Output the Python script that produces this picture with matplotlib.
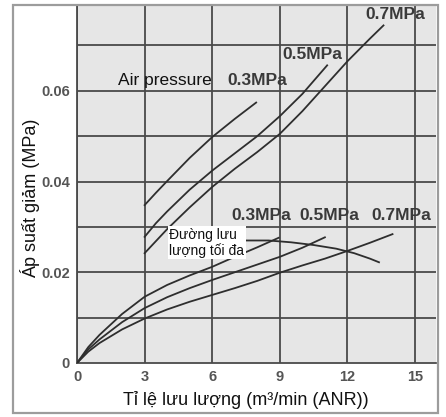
import matplotlib
matplotlib.use("Agg")
import matplotlib.pyplot as plt
from matplotlib import font_manager
from matplotlib.patches import Rectangle

names = {f.name for f in font_manager.fontManager.ttflist}
narrow = "Liberation Sans Narrow" if "Liberation Sans Narrow" in names else "Liberation Sans"

# upper curves (start at 3 m3/min)
up03_x = [3, 3.5, 4, 5, 6, 7, 7.95]
up03_y = [0.0348, 0.0375, 0.0401, 0.0452, 0.0498, 0.0538, 0.0574]
up05_x = [3, 3.5, 4, 5, 6, 7, 8, 9, 10, 11.1]
up05_y = [0.0278, 0.0308, 0.0334, 0.0382, 0.0424, 0.0462, 0.0500, 0.0544, 0.0593, 0.0656]
up07_x = [3, 4, 5, 6, 7, 8, 9, 10, 11, 12, 13, 13.6]
up07_y = [0.0242, 0.0295, 0.0343, 0.0388, 0.0428, 0.0465, 0.0505, 0.0555, 0.0610, 0.0665, 0.0715, 0.0744]

# lower curves (from origin)
lo03_x = [0, 0.5, 1, 2, 3, 4, 5, 6, 7, 8, 8.95]
lo03_y = [0, 0.0035, 0.0062, 0.0108, 0.0146, 0.0172, 0.0193, 0.0212, 0.0234, 0.0255, 0.0276]
lo05_x = [0, 0.5, 1, 2, 3, 4, 5, 6, 7, 8, 9, 10, 11]
lo05_y = [0, 0.0030, 0.0052, 0.0090, 0.0121, 0.0145, 0.0165, 0.0183, 0.0200, 0.0217, 0.0234, 0.0254, 0.0277]
lo07_x = [0, 0.5, 1, 2, 3, 4, 5, 6, 7, 8, 9, 10, 11, 12, 13, 14]
lo07_y = [0, 0.0025, 0.0044, 0.0074, 0.0098, 0.0118, 0.0135, 0.0150, 0.0165, 0.0181,
          0.0199, 0.0215, 0.0230, 0.0247, 0.0265, 0.0284]

# max flow line
mf_x = [7.5, 8.5, 9.5, 10.5, 11.5, 12.3, 13.0, 13.4]
mf_y = [0.0270, 0.0270, 0.0266, 0.0260, 0.0252, 0.0242, 0.0230, 0.0222]

xticks = [0, 3, 6, 9, 12, 15]
yticks = [0, 0.02, 0.04, 0.06]
ytick_labels = ["0", "0.02", "0.04", "0.06"]

W, H = 446, 417
fig = plt.figure(figsize=(W / 100, H / 100), dpi=100, facecolor="white")
ax = fig.add_axes([77 / W, (H - 363) / H, (436 - 77) / W, (363 - 5) / H])
ax.set_facecolor("#e6e6e6")
ax.set_xlim(0, 15.93)
ax.set_ylim(0, 0.0789)

# grid
for gx in xticks:
    ax.axvline(gx, color="#4a4a4a", lw=1.3, zorder=1)
for gy in [0.01, 0.02, 0.03, 0.04, 0.05, 0.06, 0.07]:
    ax.axhline(gy, color="#4a4a4a", lw=1.3, zorder=1)

lc = "#2e2e2e"
for xs, ys in [(up03_x, up03_y), (up05_x, up05_y), (up07_x, up07_y),
               (lo03_x, lo03_y), (lo05_x, lo05_y), (lo07_x, lo07_y),
               (mf_x, mf_y)]:
    ax.plot(xs, ys, color=lc, lw=1.3, zorder=3)

ax.set_xticks(xticks)
ax.set_yticks(yticks)
ax.set_yticklabels(ytick_labels)
ax.tick_params(length=0, pad=5, labelsize=10.5, labelcolor="#555555")
for lab in ax.get_xticklabels() + ax.get_yticklabels():
    lab.set_family("Liberation Sans")
    lab.set_fontweight("bold")
for s in ax.spines.values():
    s.set_visible(False)
for side in ["left", "bottom"]:
    ax.spines[side].set_visible(True)
    ax.spines[side].set_color("#4a4a4a")
    ax.spines[side].set_linewidth(1.3)

lab_kw = dict(family=[narrow, "Liberation Sans"], fontweight="bold", fontsize=12.5,
              color="#3a3a3a", va="center", ha="left", zorder=4)
ax.text(6.68, 0.0623, "0.3MPa", **lab_kw)
ax.text(9.1, 0.0680, "0.5MPa", **lab_kw)
ax.text(12.8, 0.0767, "0.7MPa", **lab_kw)
ax.text(6.87, 0.0324, "0.3MPa", **lab_kw)
ax.text(9.88, 0.0324, "0.5MPa", **lab_kw)
ax.text(13.05, 0.0324, "0.7MPa", **lab_kw)

ax.text(1.8, 0.0623, "Air pressure", family="Liberation Sans", fontsize=12.5,
        color="#111111", va="center", ha="left", zorder=4)
ax.text(4.1, 0.0265, "Đường lưu\nlượng tối đa", family=[narrow, "Liberation Sans"],
        fontsize=10, color="#111111", va="center", ha="left", linespacing=1.1,
        bbox=dict(facecolor="white", edgecolor="none", pad=1), zorder=5)

fig.text(30 / W, 1 - 198 / H, "Áp suất giảm (MPa)", rotation=90, family="Liberation Sans",
         fontsize=13, color="#111111", ha="center", va="center")
fig.text(246 / W, 1 - 400 / H, "Tỉ lệ lưu lượng (m³/min (ANR))", family="Liberation Sans",
         fontsize=13, color="#111111", ha="center", va="center")

fig.add_artist(Rectangle((13 / W, (H - 413) / H), (438 - 13) / W, (413 - 5) / H,
                         transform=fig.transFigure, fill=False, ec="#9c9c9c", lw=1.6))

fig.savefig("out.png", dpi=100)
